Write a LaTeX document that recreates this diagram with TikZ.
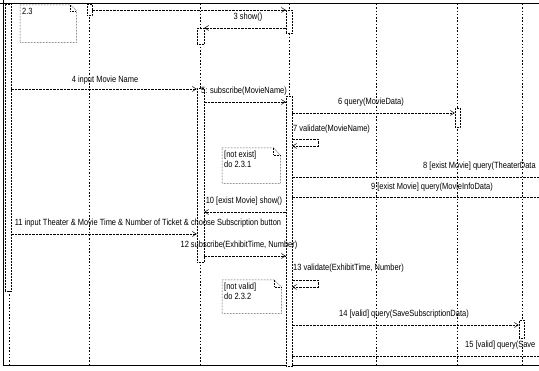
\documentclass[tikz,border=0pt]{standalone}
\usepackage{fontspec}
\setmainfont{Liberation Sans}[FakeStretch=0.83]
\usetikzlibrary{arrows.meta}
\begin{document}
\begin{tikzpicture}[x=1pt,y=-1pt,
  font=\fontsize{9}{10}\selectfont,
  life/.style={black, line width=0.6pt, dash pattern=on 1.5pt off 1.8pt},
  act/.style={draw=black, line width=0.5pt, densely dotted, fill=white, minimum width=6pt, inner sep=0pt, anchor=north},
  msg/.style={black, line width=0.5pt, dash pattern=on 2.5pt off 1pt, -{Straight Barb[length=4pt,width=5pt]}},
  plain/.style={black, line width=0.5pt, dash pattern=on 2.5pt off 1pt},
  lbl/.style={inner sep=0pt},
  border/.style={black, line width=1pt},
  notebox/.style={black, line width=0.5pt, densely dotted}
]
\useasboundingbox (0,0) rectangle (539,371);
% frame lines
\coordinate (tl) at (0,4);
\coordinate (tr) at (539,4);
\coordinate (lt) at (3,0);
\coordinate (lb) at (3,366);
\coordinate (br) at (539,366);
\draw[border] (tl) -- (tr);
\draw[border] (lt) -- (lb) -- (br);

% lifelines
\coordinate (L1t) at (89,4);  \coordinate (L1b) at (89,366);
\coordinate (L2t) at (200,4); \coordinate (L2b) at (200,366);
\coordinate (L3t) at (289,4); \coordinate (L3b) at (289,366);
\coordinate (L4t) at (376,4); \coordinate (L4b) at (376,366);
\coordinate (L5t) at (457,4); \coordinate (L5b) at (457,366);
\coordinate (L6t) at (522,4); \coordinate (L6b) at (522,366);
\coordinate (L0t) at (9,291); \coordinate (L0b) at (9,366);
\foreach \i in {0,...,6} \draw[life] (L\i t) -- (L\i b);

% activations
\node[act, minimum width=6pt, minimum height=287pt] (a0) at (8,4) {};
\node[act, minimum width=5pt, minimum height=11pt] (a1) at (89.5,4) {};
\node[act, minimum width=7pt, minimum height=16pt] (a2a) at (200.5,28) {};
\node[act, minimum width=7pt, minimum height=174pt] (a2b) at (200.5,88) {};
\node[act, minimum width=6pt, minimum height=23pt] (a3a) at (289,10) {};
\node[act, minimum width=6pt, minimum height=270pt] (a3b) at (289,96) {};
\node[act, minimum width=5pt, minimum height=19pt] (a5) at (457.5,108) {};
\node[act, minimum width=5pt, minimum height=18pt] (a6) at (521.5,320) {};

% notes
\node[lbl, minimum width=56pt, minimum height=37pt, anchor=north west] (n1) at (20,5) {};
\draw[notebox] (n1.north west) -- ([xshift=-6pt]n1.north east) -- ([yshift=-6pt]n1.north east) -- (n1.south east) -- (n1.south west) -- cycle;
\draw[notebox] ([xshift=-6pt]n1.north east) -- ([xshift=-6pt,yshift=-6pt]n1.north east) -- ([yshift=-6pt]n1.north east);
\node[lbl, anchor=north west] (t1) at (22,8) {2.3};

\node[lbl, minimum width=58pt, minimum height=35pt, anchor=north west] (n2) at (222,148) {};
\draw[notebox] (n2.north west) -- ([xshift=-7pt]n2.north east) -- ([yshift=-7pt]n2.north east) -- (n2.south east) -- (n2.south west) -- cycle;
\draw[notebox] ([xshift=-7pt]n2.north east) -- ([xshift=-7pt,yshift=-7pt]n2.north east) -- ([yshift=-7pt]n2.north east);
\node[lbl, anchor=north west, align=left] (t2) at (224,151) {[not exist]\\do 2.3.1};

\node[lbl, minimum width=59pt, minimum height=33pt, anchor=north west] (n3) at (222,280) {};
\draw[notebox] (n3.north west) -- ([xshift=-7pt]n3.north east) -- ([yshift=-7pt]n3.north east) -- (n3.south east) -- (n3.south west) -- cycle;
\draw[notebox] ([xshift=-7pt]n3.north east) -- ([xshift=-7pt,yshift=-7pt]n3.north east) -- ([yshift=-7pt]n3.north east);
\node[lbl, anchor=north west, align=left] (t3) at (224,283) {[not valid]\\do 2.3.2};

% y levels
\foreach \n/\y in {y2/10, y3/28, y4/89, y5/102, y6/113, y7a/139, y7b/146, y8/177, y9/197, y10/212, y11/234, y12/256, y13a/280, y13b/287, y14/325, y15/356}
  \coordinate (\n) at (0,\y);
\coordinate (e8) at (539,177);
\coordinate (e9) at (539,197);
\coordinate (e15) at (539,356);
\coordinate (s7) at (318,139);
\coordinate (s7b) at (318,146);
\coordinate (s13) at (318,280);
\coordinate (s13b) at (318,287);

% messages
\draw[msg] (a1.east |- y2) -- (a3a.west |- y2);
\draw[msg] (a3a.west |- y3) -- (a2a.east |- y3);
\node[lbl] (m3) at (248,17) {3 show()};

\draw[msg] (a0.east |- y4) -- (a2b.west |- y4);
\node[lbl] (m4) at (105,80) {4 input Movie Name};

\draw[msg] (a2b.east |- y5) -- (a3b.west |- y5);
\node[lbl] (m5) at (244,91) {5: subscribe(MovieName)};

\draw[msg] (a3b.east |- y6) -- (a5.west |- y6);
\node[lbl] (m6) at (371,102) {6 query(MovieData)};

\draw[msg] (a3b.east |- y7a) -- (s7) -- (s7b) -- (a3b.east |- y7b);
\node[lbl, anchor=west] (m7) at (293,129) {7 validate(MovieName)};

\draw[plain] (a3b.east |- y8) -- (e8);
\node[lbl, anchor=west] (m8) at (423,166) {8 [exist Movie] query(TheaterData};

\draw[plain] (a3b.east |- y9) -- (e9);
\node[lbl] (m9) at (432,187) {9 [exist Movie] query(MovieInfoData)};

\draw[msg] (a3b.west |- y10) -- (a2b.east |- y10);
\node[lbl] (m10) at (244,201) {10 [exist Movie] show()};

\draw[msg] (a0.east |- y11) -- (a2b.west |- y11);
\node[lbl] (m11) at (148,223) {11 input Theater \& Movie Time \& Number of Ticket \& choose Subscription button};

\draw[msg] (a2b.east |- y12) -- (a3b.west |- y12);
\node[lbl] (m12) at (239,245) {12 subscribe(ExhibitTime, Number)};

\draw[msg] (a3b.east |- y13a) -- (s13) -- (s13b) -- (a3b.east |- y13b);
\node[lbl, anchor=west] (m13) at (293,268) {13 validate(ExhibitTime, Number)};

\draw[msg] (a3b.east |- y14) -- (a6.west |- y14);
\node[lbl] (m14) at (404,314) {14 [valid] query(SaveSubscriptionData)};

\draw[plain] (a3b.east |- y15) -- (e15);
\node[lbl, anchor=west] (m15) at (465,345) {15 [valid] query(Save};
\end{tikzpicture}
\end{document}
